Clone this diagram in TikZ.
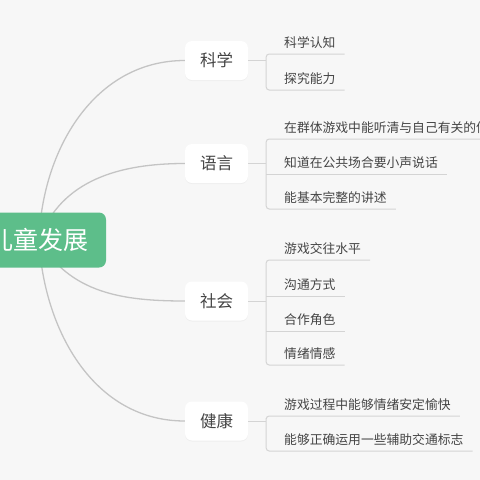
\documentclass[tikz,border=0pt]{standalone}
\usepackage{fontspec}
\setmainfont{Noto Sans CJK SC}
\usepackage{tikz}
\usetikzlibrary{positioning, shadows}
\usepackage{xcolor}

\definecolor{bggray}{RGB}{247,247,247}
\definecolor{rootgreen}{RGB}{93,190,138}
\definecolor{boughgray}{RGB}{196,196,196}
\definecolor{twiggray}{RGB}{212,212,212}
\definecolor{inkgray}{RGB}{68,68,68}

\tikzset{
  root/.style={fill=rootgreen, rounded corners=7pt, text=white,
    font=\fontsize{25}{25}\selectfont, minimum height=55pt, inner xsep=17pt},
  branch/.style={fill=white, rounded corners=7pt, minimum width=63pt,
    minimum height=39pt, text=inkgray, font=\fontsize{16.5}{16.5}\selectfont,
    drop shadow={shadow xshift=0pt, shadow yshift=-1pt, opacity=0.07}},
  leaf/.style={anchor=south west, inner xsep=9pt, inner ysep=6.5pt,
    text depth=0pt, text=inkgray, font=\fontsize{12.8}{12.8}\selectfont},
  bough/.style={draw=boughgray, line width=1.3pt},
  twig/.style={draw=twiggray, line width=1pt, rounded corners=3pt}
}

\begin{document}
\begin{tikzpicture}[x=1pt, y=-1pt]
    \fill[bggray] (0,0) rectangle (480,480);
    \useasboundingbox (0,0) rectangle (480,480);
    \clip (0,0) rectangle (480,480);

    % main branches
    \node[branch] (sci) at (216.5,60.5) {科学};
    \node[branch] (lang) at (216.5,163.5) {语言};
    \node[branch] (soc) at (216.5,301) {社会};
    \node[branch] (hlth) at (216.5,421) {健康};

    \coordinate (hub) at (39,240);
    \path[bough]
    (hub) edge[out=88, in=180] (sci.west)
    (hub) edge[out=70, in=180] (lang.west)
    (hub) edge[out=-60, in=180] (soc.west)
    (hub) edge[out=-87, in=180] (hlth.west);

    \node[root] (kid) at (hub) {儿童发展};

    % leaves
    \node[leaf] (sci1) at (275,54) {科学认知};
    \node[leaf] (sci2) at (275,90) {探究能力};

    \node[leaf] (lang1) at (275,139) {在群体游戏中能听清与自己有关的信息};
    \node[leaf] (lang2) at (275,174) {知道在公共场合要小声说话};
    \node[leaf] (lang3) at (275,209) {能基本完整的讲述};

    \node[leaf] (soc1) at (275,260) {游戏交往水平};
    \node[leaf] (soc2) at (275,296) {沟通方式};
    \node[leaf] (soc3) at (275,331) {合作角色};
    \node[leaf] (soc4) at (275,365) {情绪情感};

    \node[leaf] (hlth1) at (275,416) {游戏过程中能够情绪安定愉快};
    \node[leaf] (hlth2) at (275,451) {能够正确运用一些辅助交通标志};

    % brackets
    \coordinate (sciJ) at ([xshift=18pt]sci.east);
    \coordinate (langJ) at ([xshift=18pt]lang.east);
    \coordinate (socJ) at ([xshift=18pt]soc.east);
    \coordinate (hlthJ) at ([xshift=18pt]hlth.east);

    \draw[twig] (sci.east) -- (sciJ);
    \draw[twig] (sci1.south east) -| (sciJ) |- (sci2.south east);

    \draw[twig] (lang.east) -- (langJ);
    \draw[twig] (lang1.south east) -| (langJ) |- (lang3.south east);
    \draw[twig] (langJ |- lang2.south) -- (lang2.south east);

    \draw[twig] (soc.east) -- (socJ);
    \draw[twig] (soc1.south east) -| (socJ) |- (soc4.south east);
    \draw[twig] (socJ |- soc2.south) -- (soc2.south east);
    \draw[twig] (socJ |- soc3.south) -- (soc3.south east);

    \draw[twig] (hlth.east) -- (hlthJ);
    \draw[twig] (hlth1.south east) -| (hlthJ) |- (hlth2.south east);
\end{tikzpicture}
\end{document}
